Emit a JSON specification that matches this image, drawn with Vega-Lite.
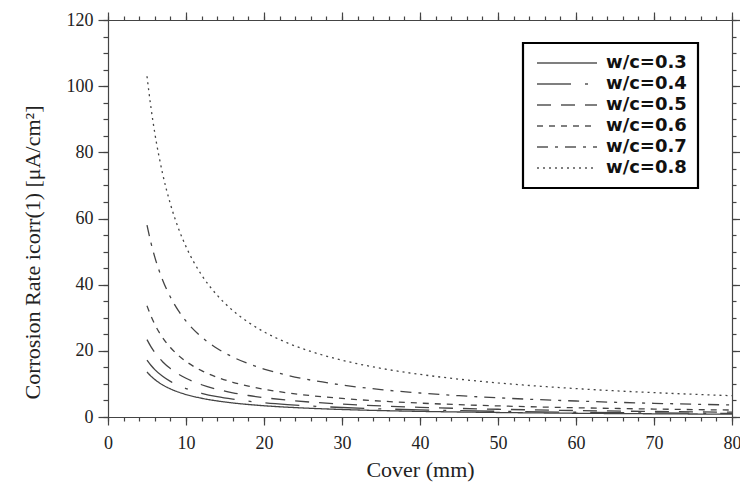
{
  "$schema": "https://vega.github.io/schema/vega-lite/v6.json",
  "width": 624,
  "height": 397,
  "autosize": {"type": "none"},
  "padding": {"left": 108, "top": 20, "right": 8, "bottom": 71},
  "background": "white",
  "config": {
    "view": {"stroke": null},
    "axis": {
      "grid": false,
      "domainColor": "#444",
      "tickColor": "#444",
      "domainWidth": 1.2,
      "tickWidth": 1.2,
      "labelFont": "Liberation Serif",
      "labelFontSize": 18,
      "labelColor": "#222",
      "labelOverlap": false,
      "labelFlush": false,
      "titleFont": "Liberation Serif",
      "titleFontSize": 22,
      "titleFontWeight": "normal",
      "titleColor": "#222"
    }
  },
  "data": {
    "values": [
      {"cover": 5, "wc": "w/c=0.3", "i": 13.6}, {"cover": 5, "wc": "w/c=0.4", "i": 17.2}, {"cover": 5, "wc": "w/c=0.5", "i": 23.4}, {"cover": 5, "wc": "w/c=0.6", "i": 33.6}, {"cover": 5, "wc": "w/c=0.7", "i": 58}, {"cover": 5, "wc": "w/c=0.8", "i": 103},
      {"cover": 5.5, "wc": "w/c=0.3", "i": 12.36}, {"cover": 5.5, "wc": "w/c=0.4", "i": 15.64}, {"cover": 5.5, "wc": "w/c=0.5", "i": 21.27}, {"cover": 5.5, "wc": "w/c=0.6", "i": 30.55}, {"cover": 5.5, "wc": "w/c=0.7", "i": 52.73}, {"cover": 5.5, "wc": "w/c=0.8", "i": 93.64},
      {"cover": 6, "wc": "w/c=0.3", "i": 11.33}, {"cover": 6, "wc": "w/c=0.4", "i": 14.33}, {"cover": 6, "wc": "w/c=0.5", "i": 19.5}, {"cover": 6, "wc": "w/c=0.6", "i": 28}, {"cover": 6, "wc": "w/c=0.7", "i": 48.33}, {"cover": 6, "wc": "w/c=0.8", "i": 85.83},
      {"cover": 7, "wc": "w/c=0.3", "i": 9.71}, {"cover": 7, "wc": "w/c=0.4", "i": 12.29}, {"cover": 7, "wc": "w/c=0.5", "i": 16.71}, {"cover": 7, "wc": "w/c=0.6", "i": 24}, {"cover": 7, "wc": "w/c=0.7", "i": 41.43}, {"cover": 7, "wc": "w/c=0.8", "i": 73.57},
      {"cover": 8, "wc": "w/c=0.3", "i": 8.5}, {"cover": 8, "wc": "w/c=0.4", "i": 10.75}, {"cover": 8, "wc": "w/c=0.5", "i": 14.63}, {"cover": 8, "wc": "w/c=0.6", "i": 21}, {"cover": 8, "wc": "w/c=0.7", "i": 36.25}, {"cover": 8, "wc": "w/c=0.8", "i": 64.38},
      {"cover": 9, "wc": "w/c=0.3", "i": 7.56}, {"cover": 9, "wc": "w/c=0.4", "i": 9.56}, {"cover": 9, "wc": "w/c=0.5", "i": 13}, {"cover": 9, "wc": "w/c=0.6", "i": 18.67}, {"cover": 9, "wc": "w/c=0.7", "i": 32.22}, {"cover": 9, "wc": "w/c=0.8", "i": 57.22},
      {"cover": 10, "wc": "w/c=0.3", "i": 6.8}, {"cover": 10, "wc": "w/c=0.4", "i": 8.6}, {"cover": 10, "wc": "w/c=0.5", "i": 11.7}, {"cover": 10, "wc": "w/c=0.6", "i": 16.8}, {"cover": 10, "wc": "w/c=0.7", "i": 29}, {"cover": 10, "wc": "w/c=0.8", "i": 51.5},
      {"cover": 12, "wc": "w/c=0.3", "i": 5.67}, {"cover": 12, "wc": "w/c=0.4", "i": 7.17}, {"cover": 12, "wc": "w/c=0.5", "i": 9.75}, {"cover": 12, "wc": "w/c=0.6", "i": 14}, {"cover": 12, "wc": "w/c=0.7", "i": 24.17}, {"cover": 12, "wc": "w/c=0.8", "i": 42.92},
      {"cover": 14, "wc": "w/c=0.3", "i": 4.86}, {"cover": 14, "wc": "w/c=0.4", "i": 6.14}, {"cover": 14, "wc": "w/c=0.5", "i": 8.36}, {"cover": 14, "wc": "w/c=0.6", "i": 12}, {"cover": 14, "wc": "w/c=0.7", "i": 20.71}, {"cover": 14, "wc": "w/c=0.8", "i": 36.79},
      {"cover": 16, "wc": "w/c=0.3", "i": 4.25}, {"cover": 16, "wc": "w/c=0.4", "i": 5.38}, {"cover": 16, "wc": "w/c=0.5", "i": 7.31}, {"cover": 16, "wc": "w/c=0.6", "i": 10.5}, {"cover": 16, "wc": "w/c=0.7", "i": 18.13}, {"cover": 16, "wc": "w/c=0.8", "i": 32.19},
      {"cover": 18, "wc": "w/c=0.3", "i": 3.78}, {"cover": 18, "wc": "w/c=0.4", "i": 4.78}, {"cover": 18, "wc": "w/c=0.5", "i": 6.5}, {"cover": 18, "wc": "w/c=0.6", "i": 9.33}, {"cover": 18, "wc": "w/c=0.7", "i": 16.11}, {"cover": 18, "wc": "w/c=0.8", "i": 28.61},
      {"cover": 20, "wc": "w/c=0.3", "i": 3.4}, {"cover": 20, "wc": "w/c=0.4", "i": 4.3}, {"cover": 20, "wc": "w/c=0.5", "i": 5.85}, {"cover": 20, "wc": "w/c=0.6", "i": 8.4}, {"cover": 20, "wc": "w/c=0.7", "i": 14.5}, {"cover": 20, "wc": "w/c=0.8", "i": 25.75},
      {"cover": 23, "wc": "w/c=0.3", "i": 2.96}, {"cover": 23, "wc": "w/c=0.4", "i": 3.74}, {"cover": 23, "wc": "w/c=0.5", "i": 5.09}, {"cover": 23, "wc": "w/c=0.6", "i": 7.3}, {"cover": 23, "wc": "w/c=0.7", "i": 12.61}, {"cover": 23, "wc": "w/c=0.8", "i": 22.39},
      {"cover": 26, "wc": "w/c=0.3", "i": 2.62}, {"cover": 26, "wc": "w/c=0.4", "i": 3.31}, {"cover": 26, "wc": "w/c=0.5", "i": 4.5}, {"cover": 26, "wc": "w/c=0.6", "i": 6.46}, {"cover": 26, "wc": "w/c=0.7", "i": 11.15}, {"cover": 26, "wc": "w/c=0.8", "i": 19.81},
      {"cover": 30, "wc": "w/c=0.3", "i": 2.27}, {"cover": 30, "wc": "w/c=0.4", "i": 2.87}, {"cover": 30, "wc": "w/c=0.5", "i": 3.9}, {"cover": 30, "wc": "w/c=0.6", "i": 5.6}, {"cover": 30, "wc": "w/c=0.7", "i": 9.67}, {"cover": 30, "wc": "w/c=0.8", "i": 17.17},
      {"cover": 35, "wc": "w/c=0.3", "i": 1.94}, {"cover": 35, "wc": "w/c=0.4", "i": 2.46}, {"cover": 35, "wc": "w/c=0.5", "i": 3.34}, {"cover": 35, "wc": "w/c=0.6", "i": 4.8}, {"cover": 35, "wc": "w/c=0.7", "i": 8.29}, {"cover": 35, "wc": "w/c=0.8", "i": 14.71},
      {"cover": 40, "wc": "w/c=0.3", "i": 1.7}, {"cover": 40, "wc": "w/c=0.4", "i": 2.15}, {"cover": 40, "wc": "w/c=0.5", "i": 2.93}, {"cover": 40, "wc": "w/c=0.6", "i": 4.2}, {"cover": 40, "wc": "w/c=0.7", "i": 7.25}, {"cover": 40, "wc": "w/c=0.8", "i": 12.88},
      {"cover": 45, "wc": "w/c=0.3", "i": 1.51}, {"cover": 45, "wc": "w/c=0.4", "i": 1.91}, {"cover": 45, "wc": "w/c=0.5", "i": 2.6}, {"cover": 45, "wc": "w/c=0.6", "i": 3.73}, {"cover": 45, "wc": "w/c=0.7", "i": 6.44}, {"cover": 45, "wc": "w/c=0.8", "i": 11.44},
      {"cover": 50, "wc": "w/c=0.3", "i": 1.36}, {"cover": 50, "wc": "w/c=0.4", "i": 1.72}, {"cover": 50, "wc": "w/c=0.5", "i": 2.34}, {"cover": 50, "wc": "w/c=0.6", "i": 3.36}, {"cover": 50, "wc": "w/c=0.7", "i": 5.8}, {"cover": 50, "wc": "w/c=0.8", "i": 10.3},
      {"cover": 60, "wc": "w/c=0.3", "i": 1.13}, {"cover": 60, "wc": "w/c=0.4", "i": 1.43}, {"cover": 60, "wc": "w/c=0.5", "i": 1.95}, {"cover": 60, "wc": "w/c=0.6", "i": 2.8}, {"cover": 60, "wc": "w/c=0.7", "i": 4.83}, {"cover": 60, "wc": "w/c=0.8", "i": 8.58},
      {"cover": 70, "wc": "w/c=0.3", "i": 0.97}, {"cover": 70, "wc": "w/c=0.4", "i": 1.23}, {"cover": 70, "wc": "w/c=0.5", "i": 1.67}, {"cover": 70, "wc": "w/c=0.6", "i": 2.4}, {"cover": 70, "wc": "w/c=0.7", "i": 4.14}, {"cover": 70, "wc": "w/c=0.8", "i": 7.36},
      {"cover": 80, "wc": "w/c=0.3", "i": 0.85}, {"cover": 80, "wc": "w/c=0.4", "i": 1.08}, {"cover": 80, "wc": "w/c=0.5", "i": 1.46}, {"cover": 80, "wc": "w/c=0.6", "i": 2.1}, {"cover": 80, "wc": "w/c=0.7", "i": 3.63}, {"cover": 80, "wc": "w/c=0.8", "i": 6.44}
    ]
  },
  "layer": [
    {
      "mark": {"type": "line", "interpolate": "monotone", "color": "#444", "strokeWidth": 1.3},
      "encoding": {
        "x": {
          "field": "cover", "type": "quantitative",
          "scale": {"domain": [0, 80], "nice": false, "zero": false},
          "axis": {
            "orient": "bottom",
            "values": [0, 10, 20, 30, 40, 50, 60, 70, 80],
            "tickSize": 8,
            "labelPadding": 9,
            "title": "Cover (mm)",
            "titlePadding": 7
          }
        },
        "y": {
          "field": "i", "type": "quantitative",
          "scale": {"domain": [0, 120], "nice": false},
          "axis": {
            "orient": "left",
            "values": [0, 20, 40, 60, 80, 100, 120],
            "tickSize": 10,
            "labelPadding": 5,
            "title": "Corrosion Rate icorr(1) [μA/cm²]",
            "titlePadding": 22,
            "titleY": 232
          }
        },
        "strokeDash": {
          "field": "wc", "type": "nominal",
          "scale": {
            "domain": ["w/c=0.3", "w/c=0.4", "w/c=0.5", "w/c=0.6", "w/c=0.7", "w/c=0.8"],
            "range": [[1, 0], [34, 14, 3, 14], [14, 10], [6, 6], [11, 7, 3, 7], [2, 4]]
          },
          "legend": {
            "orient": "none",
            "legendX": 415,
            "legendY": 23,
            "title": null,
            "strokeColor": "black",
            "fillColor": "white",
            "padding": 11,
            "symbolType": "M-1,0H9",
            "symbolSize": 144,
            "symbolStrokeColor": "#555",
            "symbolFillColor": "transparent",
            "symbolStrokeWidth": 1.3,
            "labelFont": "DejaVu Sans",
            "labelFontWeight": "bold",
            "labelFontSize": 18,
            "labelColor": "#111",
            "labelOffset": 54,
            "rowPadding": 3,
            "encode": {"legend": {"update": {"strokeWidth": {"value": 2.2}}}}
          }
        }
      }
    },
    {
      "mark": {"type": "point", "opacity": 0},
      "encoding": {
        "x": {
          "field": "cover", "type": "quantitative",
          "axis": {
            "orient": "bottom",
            "values": [0,2,4,6,8,10,12,14,16,18,20,22,24,26,28,30,32,34,36,38,40,42,44,46,48,50,52,54,56,58,60,62,64,66,68,70,72,74,76,78,80],
            "labels": false, "domain": false, "tickSize": 4, "title": null
          }
        },
        "y": {
          "field": "i", "type": "quantitative",
          "axis": {
            "orient": "left",
            "values": [0,5,10,15,20,25,30,35,40,45,50,55,60,65,70,75,80,85,90,95,100,105,110,115,120],
            "labels": false, "domain": false, "tickSize": 5, "title": null
          }
        }
      }
    },
    {
      "mark": {"type": "point", "opacity": 0},
      "encoding": {
        "x": {
          "field": "cover", "type": "quantitative",
          "axis": {
            "orient": "top",
            "values": [0, 10, 20, 30, 40, 50, 60, 70, 80],
            "labels": false, "tickSize": 8, "title": null
          }
        },
        "y": {
          "field": "i", "type": "quantitative",
          "axis": {
            "orient": "right",
            "values": [0, 20, 40, 60, 80, 100, 120],
            "labels": false, "tickSize": 8, "title": null
          }
        }
      }
    },
    {
      "mark": {"type": "point", "opacity": 0},
      "encoding": {
        "x": {
          "field": "cover", "type": "quantitative",
          "axis": {
            "orient": "top",
            "values": [0,2,4,6,8,10,12,14,16,18,20,22,24,26,28,30,32,34,36,38,40,42,44,46,48,50,52,54,56,58,60,62,64,66,68,70,72,74,76,78,80],
            "labels": false, "domain": false, "tickSize": 4, "title": null
          }
        },
        "y": {
          "field": "i", "type": "quantitative",
          "axis": {
            "orient": "right",
            "values": [0,5,10,15,20,25,30,35,40,45,50,55,60,65,70,75,80,85,90,95,100,105,110,115,120],
            "labels": false, "domain": false, "tickSize": 4, "title": null
          }
        }
      }
    }
  ],
  "resolve": {"axis": {"x": "independent", "y": "independent"}}
}
